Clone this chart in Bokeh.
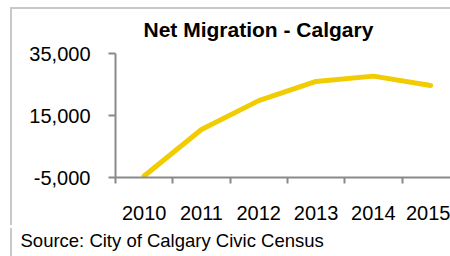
from bokeh.plotting import figure
from bokeh.models import (Range1d, FixedTicker, NumeralTickFormatter, Title, InlineStyleSheet, ColumnDataSource)
from bokeh.embed import file_html
from bokeh.resources import INLINE

years = ["2010", "2011", "2012", "2013", "2014", "2015"]
net_migration = [-4500, 10500, 19800, 26000, 27700, 24700]
y_ticks = [-5000, 15000, 35000]
title_text = "Net Migration - Calgary"
source_text = "Source: City of Calgary Civic Census"

xpos = [i + 0.5 for i in range(len(years))]
src = ColumnDataSource(dict(x=xpos, y=net_migration))

W, H = 450, 256
gray = "#c8c8c8"
css = f""":host {{
  background-image: linear-gradient({gray},{gray}), linear-gradient({gray},{gray}), linear-gradient({gray},{gray});
  background-size: 440px 2px, 2px 218px, 2px 28px;
  background-position: 10px 7px, 10px 7px, 10px 228px;
  background-repeat: no-repeat;
}}"""
p = figure(width=W, height=H, output_backend="svg", toolbar_location=None,
           x_range=Range1d(0, 5.846), y_range=Range1d(-5000, 35000),
           min_border_left=115, min_border_right=0, min_border_top=53, min_border_bottom=79,
           stylesheets=[InlineStyleSheet(css=css)])
p.outline_line_color = None
p.grid.visible = False
p.background_fill_color = "white"
p.border_fill_color = None

p.line("x", "y", source=src, line_color="#f0cc00", line_width=5, line_cap="round", line_join="round")

font = "Liberation Sans"
ax = p.yaxis[0]
ax.ticker = FixedTicker(ticks=y_ticks, minor_ticks=[])
ax.formatter = NumeralTickFormatter(format="0,0")
ax.axis_line_color = "#898989"
ax.axis_line_width = 2
ax.major_tick_line_color = "#898989"
ax.major_tick_line_width = 2
ax.major_tick_out = 7
ax.major_tick_in = 0
ax.minor_tick_line_color = None
ax.major_label_standoff = 18
ax.major_label_text_font = font
ax.major_label_text_font_size = "20px"
ax.major_label_text_color = "black"

bx = p.xaxis[0]
bx.ticker = FixedTicker(ticks=xpos, minor_ticks=list(range(len(years) + 1)))
bx.major_label_overrides = {x: y for x, y in zip(xpos, years)}
bx.axis_line_color = "#898989"
bx.axis_line_width = 2
bx.major_tick_line_color = None
bx.minor_tick_line_color = "#898989"
bx.minor_tick_line_width = 2
bx.minor_tick_out = 6
bx.minor_tick_in = 0
bx.major_label_standoff = 22
bx.major_label_text_font = font
bx.major_label_text_font_size = "20px"
bx.major_label_text_color = "black"

p.title = Title(text=title_text, align="left", offset=28, text_font=font, text_font_size="21px",
                text_font_style="bold", text_color="black", standoff=26)
p.add_layout(Title(text=source_text, align="left", offset=-95, text_font=font, text_font_size="18.5px",
                   text_font_style="normal", text_color="black", standoff=10), "below")

open("out.html", "w").write(file_html(p, INLINE))
